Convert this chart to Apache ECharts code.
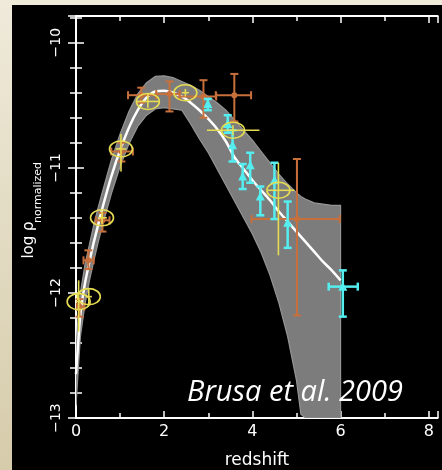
<!DOCTYPE html>
<html><head><meta charset="utf-8">
<script src="https://cdn.jsdelivr.net/npm/echarts@6/dist/echarts.min.js"></script>
<style>
html,body{margin:0;padding:0;width:442px;height:470px;overflow:hidden;background:linear-gradient(to bottom,#EFEADA,#D6CCAB);}
#panel{position:absolute;left:12px;top:5px;width:430px;height:465px;background:#000;}
#chart{position:absolute;left:0;top:0;width:442px;height:470px;}
</style></head><body>
<div id="panel"></div><div id="chart"></div>
<script>
// redshift grid for the model curves
const zGrid = [0, 0.05, 0.1, 0.2, 0.3, 0.4, 0.5, 0.6, 0.8, 1.0, 1.2, 1.4, 1.6, 1.8, 2.0, 2.2, 2.4, 2.6, 2.8, 3.0, 3.2, 3.4, 3.6, 3.8, 4.0, 4.2, 4.4, 4.6, 4.8, 5.0, 5.1, 5.2, 5.4, 5.6, 5.8, 6.0];
// best-fit (white) curve
const bestFit = [-12.65, -12.40, -12.17, -11.93, -11.76, -11.60, -11.46, -11.32, -11.07, -10.86, -10.68, -10.54, -10.44, -10.39, -10.385, -10.40, -10.43, -10.48, -10.54, -10.61, -10.69, -10.79, -10.92, -11.01, -11.10, -11.18, -11.26, -11.35, -11.43, -11.51, -11.55, -11.59, -11.67, -11.75, -11.82, -11.90];
// envelope of the grey bundle of model curves
const bandUpper = [-12.45, -12.18, -12.00, -11.78, -11.62, -11.46, -11.32, -11.19, -10.94, -10.73, -10.55, -10.41, -10.32, -10.27, -10.265, -10.28, -10.31, -10.34, -10.38, -10.43, -10.48, -10.54, -10.62, -10.70, -10.78, -10.87, -10.96, -11.05, -11.13, -11.20, -11.23, -11.25, -11.28, -11.29, -11.30, -11.30];
const bandLower = [-12.90, -12.62, -12.35, -12.10, -11.91, -11.75, -11.60, -11.46, -11.21, -10.99, -10.81, -10.67, -10.58, -10.53, -10.52, -10.53, -10.54, -10.65, -10.77, -10.88, -11.01, -11.14, -11.27, -11.40, -11.53, -11.68, -11.86, -12.08, -12.35, -12.70, -12.97, -13.0, -13.0, -13.0, -13.0, -13.0];
// data points: [z, logRho, zLow, zHigh, logRhoLow, logRhoHigh]
const orangePts = [
  [0.08, -12.11, 0.02, 0.19, -12.19, -12.05],
  [0.28, -11.74, 0.17, 0.40, -11.81, -11.66],
  [0.60, -11.42, 0.45, 0.76, -11.51, -11.36],
  [1.03, -10.87, 0.80, 1.29, -10.95, -10.80],
  [1.48, -10.42, 1.18, 1.82, -10.48, -10.36],
  [2.12, -10.41, 1.82, 2.35, -10.55, -10.31],
  [2.89, -10.43, 2.35, 3.18, -10.60, -10.30],
  [3.59, -10.42, 3.17, 3.97, -10.63, -10.25],
  [5.01, -11.41, 3.98, 5.98, -12.18, -10.93]
];
const cyanPts = [
  [2.99, -10.49, 2.99, 2.99, -10.54, -10.45],
  [3.44, -10.65, 3.44, 3.44, -10.72, -10.58],
  [3.55, -10.82, 3.55, 3.55, -10.95, -10.70],
  [3.78, -11.07, 3.78, 3.78, -11.17, -10.97],
  [3.95, -10.98, 3.95, 3.95, -11.12, -10.88],
  [4.18, -11.23, 4.18, 4.18, -11.38, -11.15],
  [4.50, -11.10, 4.50, 4.50, -11.41, -10.96],
  [4.80, -11.44, 4.80, 4.80, -11.64, -11.27],
  [6.05, -11.95, 5.73, 6.39, -12.19, -11.82]
];
const yellowPts = [
  [0.06, -12.07, 0.00, 0.12, -12.31, -11.90],
  [0.29, -12.03, 0.22, 0.36, -12.09, -11.97],
  [0.59, -11.40, 0.50, 0.70, -11.45, -11.35],
  [1.02, -10.85, 0.90, 1.14, -11.03, -10.73],
  [1.63, -10.47, 1.36, 1.90, -10.52, -10.41],
  [2.48, -10.40, 2.40, 2.56, -10.43, -10.37],
  [3.56, -10.70, 2.97, 4.16, -10.74, -10.66],
  [4.59, -11.18, 4.34, 4.95, -11.70, -10.96]
];
const xTicks = {min: 0, max: 8.2, interval: 2};
const yTicks = {min: -13, max: -9.787, interval: 1};

const FONT = 'DejaVu Sans';
const ORANGE = '#C8703C', CYAN = '#55EEF0', YELLOW = '#E6DC52';

function errRender(kind) {
  return function (params, api) {
    const z = api.value(0), y = api.value(1), zl = api.value(2), zh = api.value(3), yl = api.value(4), yh = api.value(5);
    const c = api.coord([z, y]);
    const pL = api.coord([zl, y]), pR = api.coord([zh, y]), pB = api.coord([z, yl]), pT = api.coord([z, yh]);
    const color = kind === 'o' ? ORANGE : kind === 'c' ? CYAN : YELLOW;
    const lw = kind === 'o' ? 2 : kind === 'c' ? 2.5 : 1.6;
    const cap = kind === 'y' ? 0 : 4;
    const st = {stroke: color, lineWidth: lw};
    const ch = [];
    if (Math.abs(pR[0] - pL[0]) > 0.5) {
      ch.push({type: 'line', shape: {x1: pL[0], y1: c[1], x2: pR[0], y2: c[1]}, style: st});
      if (cap) {
        ch.push({type: 'line', shape: {x1: pL[0], y1: c[1] - cap, x2: pL[0], y2: c[1] + cap}, style: st});
        ch.push({type: 'line', shape: {x1: pR[0], y1: c[1] - cap, x2: pR[0], y2: c[1] + cap}, style: st});
      }
    }
    if (Math.abs(pB[1] - pT[1]) > 0.5) {
      ch.push({type: 'line', shape: {x1: c[0], y1: pB[1], x2: c[0], y2: pT[1]}, style: st});
      if (cap) {
        ch.push({type: 'line', shape: {x1: c[0] - cap, y1: pB[1], x2: c[0] + cap, y2: pB[1]}, style: st});
        ch.push({type: 'line', shape: {x1: c[0] - cap, y1: pT[1], x2: c[0] + cap, y2: pT[1]}, style: st});
      }
    }
    if (kind === 'o') {
      ch.push({type: 'circle', shape: {cx: c[0], cy: c[1], r: 3}, style: {fill: color}});
    } else if (kind === 'c') {
      ch.push({type: 'polygon', shape: {points: [[c[0], c[1] - 5], [c[0] - 4.5, c[1] + 4], [c[0] + 4.5, c[1] + 4]]}, style: {fill: color}});
    } else {
      ch.push({type: 'ellipse', shape: {cx: c[0], cy: c[1], rx: 11.5, ry: 8}, style: {fill: null, stroke: color, lineWidth: 1.6}});
    }
    return {type: 'group', children: ch};
  };
}

function tickFmtY(v) {
  if (Math.abs(v - Math.round(v)) > 1e-6) return '';
  const r = Math.round(v);
  return (r < 0 ? '\u2212' : '') + Math.abs(r);
}
function tickFmtX(v) {
  if (Math.abs(v - Math.round(v)) > 1e-6) return '';
  return String(Math.round(v));
}

const axLine = {show: true, lineStyle: {color: '#fff', width: 2}};
function xAx(pos, showLabel) {
  return {type: 'value', position: pos, min: xTicks.min, max: xTicks.max, interval: xTicks.interval,
    axisLine: axLine, splitLine: {show: false},
    axisTick: {show: true, inside: true, length: 7, lineStyle: {color: '#fff', width: 1.5}},
    minorTick: {show: true, splitNumber: 2, length: 5, lineStyle: {color: '#fff', width: 1.5}},
    axisLabel: {show: showLabel, color: '#fff', fontFamily: FONT, fontSize: 16, margin: 6, formatter: tickFmtX, showMaxLabel: false}};
}
function yAx(pos, showLabel) {
  return {type: 'value', position: pos, min: yTicks.min, max: yTicks.max, interval: yTicks.interval,
    axisLine: axLine, splitLine: {show: false},
    axisTick: {show: true, inside: true, length: 8, lineStyle: {color: '#fff', width: 1.5}},
    minorTick: {show: true, splitNumber: 5, length: 6, lineStyle: {color: '#fff', width: 1.5}},
    axisLabel: {show: showLabel, rotate: 90, color: '#fff', fontFamily: FONT, fontSize: 14, margin: 13, formatter: tickFmtY}};
}

const chart = echarts.init(document.getElementById('chart'), null, {renderer: 'canvas'});
chart.setOption({
  backgroundColor: 'transparent',
  animation: false,
  grid: {left: 76, top: 16, width: 361.6, height: 402},
  xAxis: [xAx('bottom', true), xAx('top', false)],
  yAxis: [yAx('left', true), yAx('right', false)],
  series: [
    {
      type: 'custom', name: 'models', clip: true, silent: true, z: 1,
      data: [[zGrid[0], bandUpper[0]]], encode: {x: 0, y: 1},
      renderItem: function (params, api) {
        const pts = [];
        for (let i = 0; i < zGrid.length; i++) pts.push(api.coord([zGrid[i], bandUpper[i]]));
        for (let i = zGrid.length - 1; i >= 0; i--) pts.push(api.coord([zGrid[i], bandLower[i]]));
        return {type: 'polygon', shape: {points: pts, smooth: 0}, style: {fill: '#7c7c7c', stroke: '#959595', lineWidth: 1.2}};
      }
    },
    {
      type: 'line', name: 'best fit', z: 2, symbol: 'none', smooth: 0.3,
      data: zGrid.map((z, i) => [z, bestFit[i]]),
      lineStyle: {color: '#fff', width: 2.5}
    },
    {type: 'custom', name: 'orange', z: 3, data: orangePts, encode: {x: [0, 2, 3], y: [1, 4, 5]}, renderItem: errRender('o')},
    {type: 'custom', name: 'cyan', z: 4, data: cyanPts, encode: {x: [0, 2, 3], y: [1, 4, 5]}, renderItem: errRender('c')},
    {type: 'custom', name: 'yellow', z: 5, data: yellowPts, encode: {x: [0, 2, 3], y: [1, 4, 5]}, renderItem: errRender('y')}
  ],
  graphic: [
    {type: 'text', x: 257, y: 461, style: {text: 'redshift', fill: '#fff', fontFamily: FONT, fontSize: 17, align: 'center', verticalAlign: 'middle'}},
    {type: 'text', x: 29, y: 240, rotation: Math.PI / 2, style: {text: 'log \u03C1', fill: '#fff', fontFamily: FONT, fontSize: 15, align: 'center', verticalAlign: 'middle'}},
    {type: 'text', x: 38.5, y: 192.5, rotation: Math.PI / 2, style: {text: 'normalized', fill: '#fff', fontFamily: FONT, fontSize: 11, align: 'center', verticalAlign: 'middle'}},
    {type: 'text', x: 187, y: 393, z: 100, style: {text: 'Brusa et al. 2009', fill: '#fff', fontFamily: 'Open Sans', fontStyle: 'italic', fontSize: 29, align: 'left', verticalAlign: 'middle'}}
  ]
});
</script>
</body></html>
